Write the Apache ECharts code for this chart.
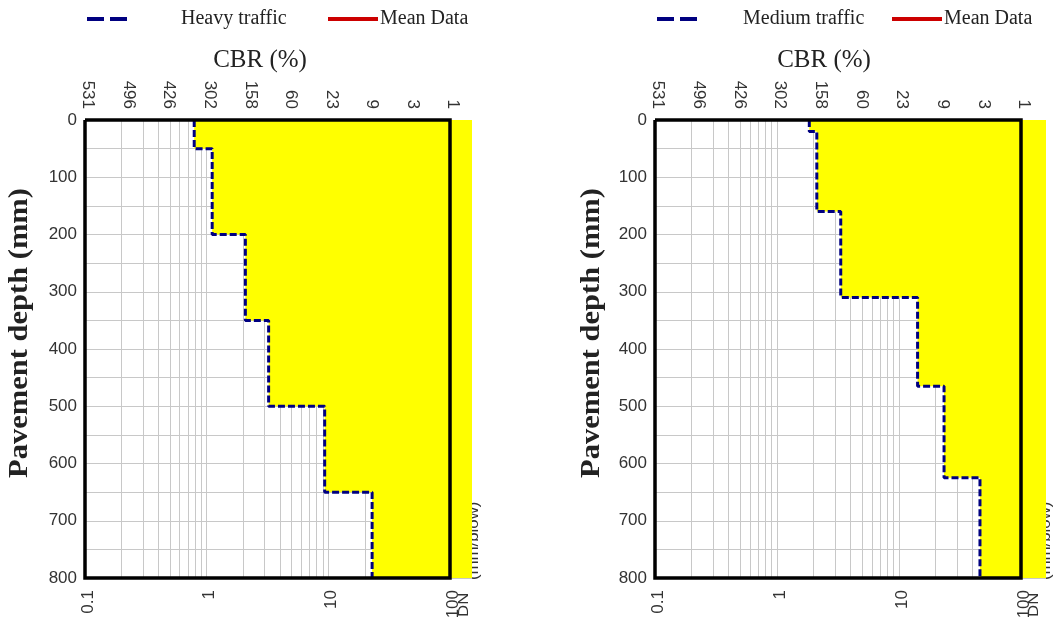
<!DOCTYPE html>
<html><head><meta charset="utf-8">
<script src="https://cdn.jsdelivr.net/npm/echarts@6/dist/echarts.min.js"></script>
<style>html,body{margin:0;padding:0;background:#fff}#c{width:1054px;height:618px}</style>
</head><body><div id="c"></div>
<script>
// ---- data ----
const depthHeavy = [0, 50, 200, 350, 500, 650, 800];      // layer boundaries (mm)
const dnHeavy = [0.79, 1.11, 2.08, 3.23, 9.33, 22.9];      // DN per layer (mm/blow)
const depthMedium = [0, 20, 160, 310, 465, 625, 800];
const dnMedium = [1.84, 2.12, 3.33, 14.2, 23.4, 46.1];
const meanDataHeavy = [];
const meanDataMedium = [];
const cbrLabels = ['531', '496', '426', '302', '158', '60', '23', '9', '3', '1'];
const dnRange = [0.1, 100];
const depthRange = [0, 800];
const depthTickStep = 50;
const depthLabelStep = 100;

// ---- helpers ----
function stepPoints(dn, depth) {
  const pts = [];
  for (let i = 0; i < dn.length; i++) {
    pts.push([dn[i], depth[i]]);
    pts.push([dn[i], depth[i + 1]]);
  }
  return pts;
}
function isPow10(v) {
  const l = Math.log10(v);
  return Math.abs(l - Math.round(l)) < 1e-6;
}
const gridVals = [];
for (let k = Math.log10(dnRange[0]); k < Math.log10(dnRange[1]); k++) {
  for (let m = 1; m <= 9; m++) gridVals.push(+(m * Math.pow(10, k)).toPrecision(6));
}
gridVals.push(dnRange[1]);

const panels = [
  { name: 'Heavy traffic', dn: dnHeavy, depth: depthHeavy, mean: meanDataHeavy,
    left: 85, width: 387, frameW: 365, legLeft: 87, legPad: 49, redLeft: 328,
    titleX: 260, yNameX: 20, dnX: 464, mmX: 474 },
  { name: 'Medium traffic', dn: dnMedium, depth: depthMedium, mean: meanDataMedium,
    left: 655, width: 391, frameW: 366, legLeft: 657, legPad: 41, redLeft: 892,
    titleX: 824, yNameX: 592, dnX: 1034, mmX: 1046 }
];
const TOP = 120, H = 458;
const labelFont = '"Liberation Sans", Arial, sans-serif';
const serif = '"Liberation Serif", "Times New Roman", serif';
const dashIcon = 'path://M0,0h17v4h-17z M23,0h17v4h-17z';
const solidIcon = 'path://M0,0h50v4h-50z';

const option = {
  animation: false,
  backgroundColor: '#fff',
  grid: [], xAxis: [], yAxis: [], series: [], legend: [], graphic: []
};

panels.forEach((p, i) => {
  const xMax = dnRange[0] * Math.pow(dnRange[1] / dnRange[0], p.width / p.frameW);
  const topMax = 3 * Math.log10(xMax / dnRange[0]);
  const steps = stepPoints(p.dn, p.depth);
  const frame = [
    [dnRange[0], depthRange[0]], [dnRange[1], depthRange[0]],
    [dnRange[1], depthRange[1]], [dnRange[0], depthRange[1]], [dnRange[0], depthRange[0]]
  ];
  option.grid.push({ left: p.left, top: TOP, width: p.width, height: H,
    containLabel: false, outerBoundsMode: 'none' });
  option.xAxis.push({
    type: 'log', gridIndex: i, min: dnRange[0], max: xMax, logBase: 10,
    axisLine: { show: false }, axisTick: { show: false }, splitLine: { show: false },
    axisLabel: { rotate: 90, margin: 12, fontSize: 17, color: '#333', fontFamily: labelFont,
      showMaxLabel: false, verticalAlign: 'top', lineHeight: 6,
      formatter: v => isPow10(v) ? String(+(+v).toPrecision(6)) : '' }
  });
  option.xAxis.push({
    type: 'value', gridIndex: i, position: 'top', min: 0, max: topMax, interval: 1,
    axisLine: { show: false }, axisTick: { show: false }, splitLine: { show: false },
    axisLabel: { rotate: 90, margin: 11, fontSize: 17, color: '#333', fontFamily: labelFont,
      showMaxLabel: false, verticalAlign: 'bottom', lineHeight: 6,
      formatter: v => (Number.isInteger(v) && cbrLabels[v] !== undefined) ? cbrLabels[v] : '' }
  });
  option.yAxis.push({
    type: 'value', gridIndex: i, inverse: true, min: depthRange[0], max: depthRange[1],
    interval: depthTickStep,
    axisLine: { show: false }, axisTick: { show: false },
    splitLine: { lineStyle: { color: '#c8c8c8', width: 1 } },
    axisLabel: { margin: 8, fontSize: 17, color: '#333', fontFamily: labelFont,
      formatter: v => (v % depthLabelStep === 0 ? String(v) : '') }
  });
  const xb = 2 * i;
  option.series.push({
    type: 'custom', xAxisIndex: xb, yAxisIndex: i, z: 2, silent: true,
    data: steps,
    renderItem: (params, api) => {
      if (params.dataIndex !== 0) return null;
      const pts = steps.map(s => api.coord(s));
      pts.push(api.coord([xMax, depthRange[1]]));
      pts.push(api.coord([xMax, depthRange[0]]));
      return { type: 'polygon', shape: { points: pts }, style: { fill: '#ffff00' } };
    }
  });
  option.series.push({
    type: 'line', name: p.name, xAxisIndex: xb, yAxisIndex: i, z: 4,
    data: steps, symbol: 'none', color: '#000080',
    lineStyle: { color: '#000080', width: 3, type: [7, 3] }
  });
  option.series.push({
    type: 'line', name: 'Mean Data', xAxisIndex: xb, yAxisIndex: i, z: 4,
    data: p.mean, symbol: 'none', color: '#cc0000', lineStyle: { color: '#cc0000', width: 3 }
  });
  option.series.push({
    type: 'line', name: 'frame' + i, xAxisIndex: xb, yAxisIndex: i, z: 5,
    data: frame, symbol: 'none', clip: false, silent: true,
    lineStyle: { color: '#000', width: 3.5, join: 'miter' },
    markLine: {
      z: 1, silent: true, symbol: ['none', 'none'], label: { show: false },
      lineStyle: { color: '#c8c8c8', width: 1, type: 'solid' },
      emphasis: { disabled: true },
      data: gridVals.map(v => ({ xAxis: v }))
    }
  });
  option.legend.push({
    left: p.legLeft, top: 9, padding: 0, itemWidth: 40, itemHeight: 4, selectedMode: false,
    data: [{ name: p.name, icon: dashIcon }],
    textStyle: { fontFamily: serif, fontSize: 20, color: '#222', padding: [0, 0, 0, p.legPad] }
  });
  option.legend.push({
    left: p.redLeft, top: 9, padding: 0, itemWidth: 50, itemHeight: 4, selectedMode: false,
    data: [{ name: 'Mean Data', icon: solidIcon }],
    textStyle: { fontFamily: serif, fontSize: 20, color: '#222', padding: [0, 0, 0, -3] }
  });
  option.graphic.push(
    { type: 'text', x: p.titleX, y: 60, silent: true,
      style: { text: 'CBR (%)', font: '25px ' + serif, fill: '#222', align: 'center', verticalAlign: 'middle' } },
    { type: 'text', x: p.yNameX, y: 333, rotation: Math.PI / 2, scaleX: 1.13, silent: true,
      style: { text: 'Pavement depth (mm)', font: 'bold 27px ' + serif, fill: '#222', align: 'center', verticalAlign: 'middle' } },
    { type: 'text', x: p.dnX, y: 617, rotation: Math.PI / 2, scaleX: 1.2, silent: true, z: 0,
      style: { text: 'DN', font: '14px ' + labelFont, fill: '#333', align: 'left', verticalAlign: 'middle' } },
    { type: 'text', x: p.mmX, y: 580, rotation: Math.PI / 2, scaleX: 1.2, silent: true, z: 0,
      style: { text: '(mm/blow)', font: '14px ' + labelFont, fill: '#333', align: 'left', verticalAlign: 'middle' } }
  );
});

const chart = echarts.init(document.getElementById('c'), null, { renderer: 'canvas' });
chart.setOption(option);
</script>
</body></html>
